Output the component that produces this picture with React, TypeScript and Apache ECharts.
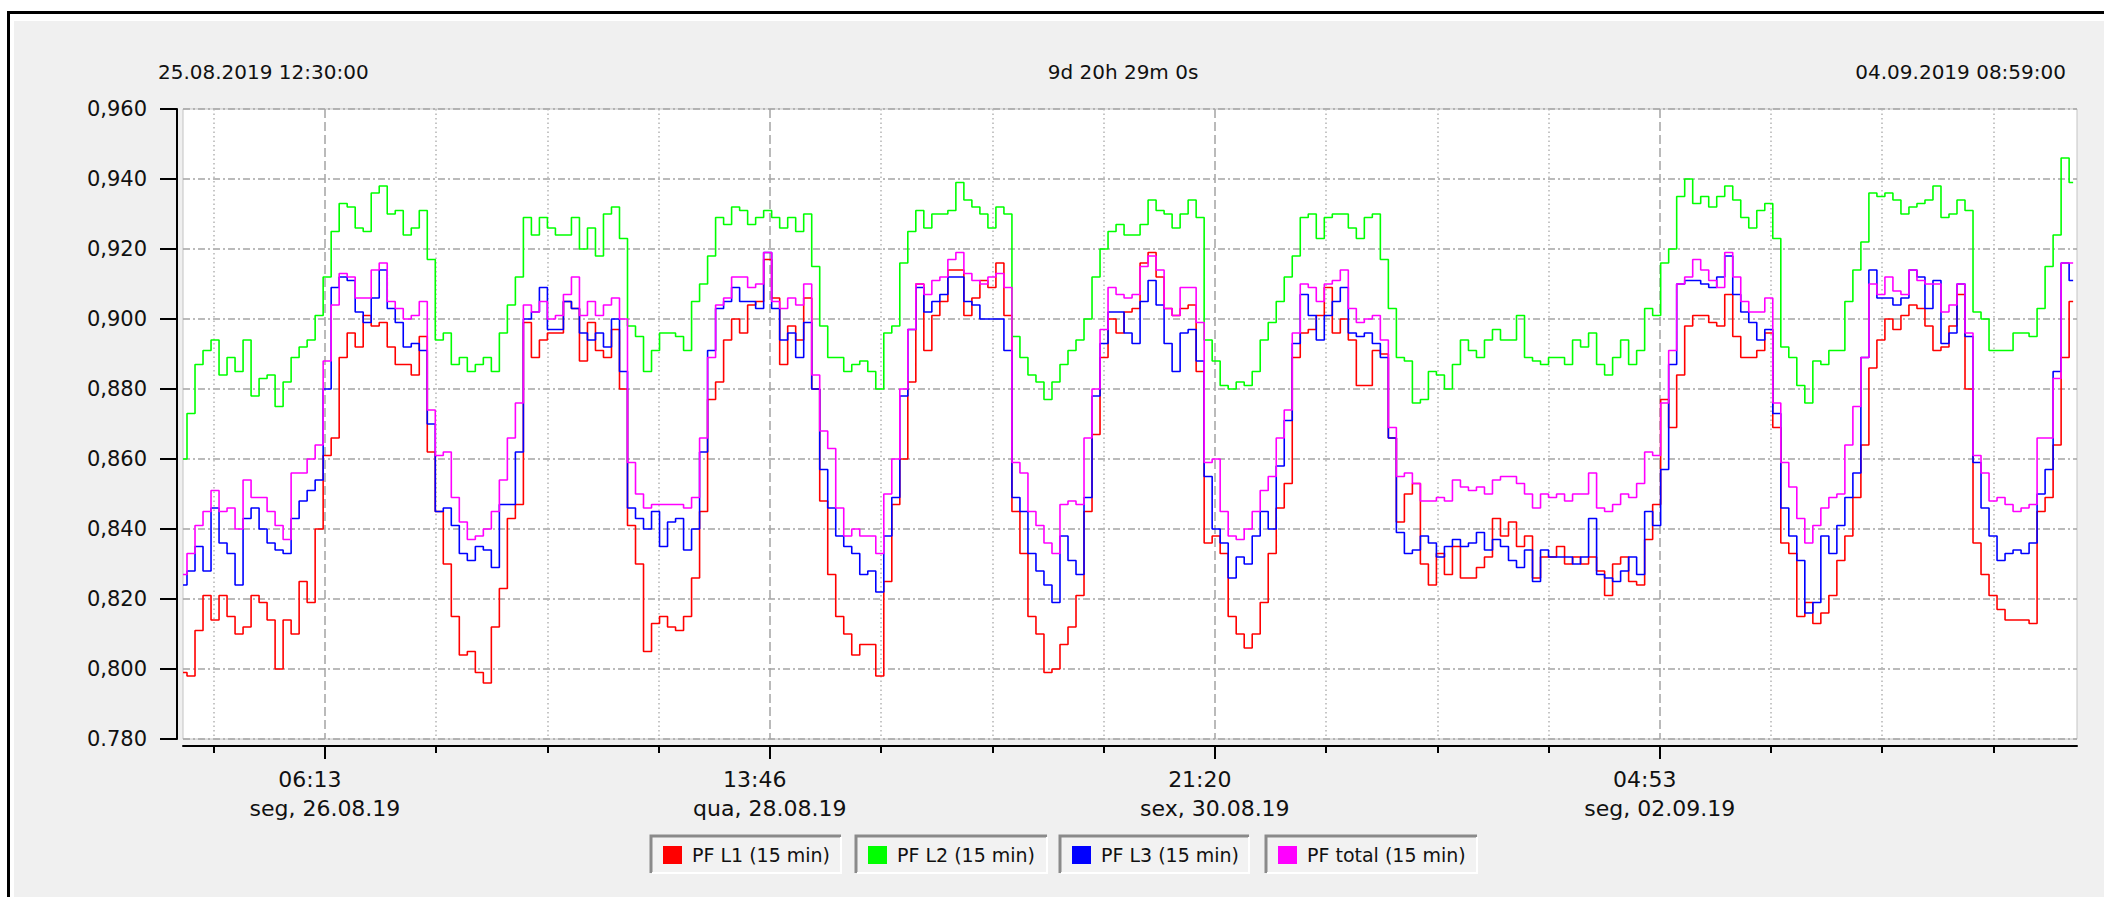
import React, { useEffect, useRef } from "react";
import * as echarts from "echarts";

const HOUR = 3600000;
const startTime = Date.UTC(2019, 7, 25, 12, 30);
const endTime = Date.UTC(2019, 8, 4, 8, 59);

const headerLabels = ["25.08.2019 12:30:00", "9d 20h 29m 0s", "04.09.2019 08:59:00"];
const seriesNames = ["PF L1 (15 min)", "PF L2 (15 min)", "PF L3 (15 min)", "PF total (15 min)"];
const seriesColors = ["#ff0000", "#00ff00", "#0000ff", "#ff00ff"];

const yMin = 780;
const yMax = 960;
const yStep = 20;
const yTickLabels = ["0.780", "0,800", "0,820", "0,840", "0,860", "0,880", "0,900", "0,920", "0,940", "0,960"];

const majorTickTimes = [
  Date.UTC(2019, 7, 26, 6, 13),
  Date.UTC(2019, 7, 28, 13, 46),
  Date.UTC(2019, 7, 30, 21, 20),
  Date.UTC(2019, 8, 2, 4, 53),
];
const majorTickTimeLabels = ["06:13", "13:46", "21:20", "04:53"];
const majorTickDateLabels = ["seg, 26.08.19", "qua, 28.08.19", "sex, 30.08.19", "seg, 02.09.19"];

// hourly readings (thousandths of PF), starting 25.08.2019 12:30
const pfL1 = [
  799, 798, 811, 821, 814, 821, 815, 810, 812, 821, 819, 814, 800, 814, 810, 825, 819, 840, 861, 866,
  889, 896, 892, 901, 898, 899, 892, 887, 887, 884, 895, 862, 845, 830, 815, 804, 805, 799, 796, 812,
  823, 843, 847, 899, 889, 894, 896, 896, 905, 903, 888, 899, 891, 889, 897, 880, 841, 830, 805, 813,
  815, 812, 811, 815, 826, 845, 877, 882, 894, 900, 896, 904, 905, 917, 906, 887, 898, 894, 906,
  880, 848, 827, 815, 810, 804, 807, 807, 798, 825, 847, 860, 882, 910, 891, 901, 905, 914, 914, 901,
  906, 911, 909, 916, 901, 845, 833, 815, 810, 799, 800, 807, 812, 821, 845, 867, 889, 900, 896, 902,
  903, 916, 919, 912, 903, 901, 903, 904, 885, 836, 838, 833, 815, 810, 806, 810, 819, 833, 846, 853,
  889, 896, 897, 901, 909, 896, 900, 894, 881, 881, 891, 890, 866, 842, 850, 853, 830, 824, 833,
  827, 835, 826, 826, 829, 832, 843, 838, 842, 835, 838, 826, 832, 832, 835, 830, 832, 830, 832, 828,
  821, 830, 832, 825, 824, 837, 847, 877, 869, 884, 898, 901, 901, 899, 898, 907, 895, 889, 889,
  891, 896, 869, 836, 833, 815, 819, 813, 816, 821, 831, 838, 849, 864, 886, 894, 900, 897, 901, 904,
  903, 898, 891, 892, 898, 907, 880, 836, 827, 821, 817, 814, 814, 814, 813, 845, 849, 864, 889, 905,
];
const pfL2 = [
  860, 873, 887, 891, 894, 884, 889, 885, 894, 878, 883, 884, 875, 882, 889, 892, 894, 901, 912, 925,
  933, 932, 926, 925, 936, 938, 930, 931, 924, 926, 931, 917, 894, 896, 887, 889, 885, 887, 889, 885,
  896, 904, 912, 929, 924, 929, 926, 924, 924, 929, 920, 926, 918, 930, 932, 923, 898, 895, 885, 891,
  896, 896, 895, 891, 905, 910, 918, 929, 927, 932, 931, 927, 929, 931, 929, 926, 929, 925, 930,
  915, 898, 889, 889, 885, 887, 888, 885, 880, 896, 898, 916, 925, 931, 926, 930, 930, 931, 939, 934,
  932, 930, 926, 932, 930, 895, 889, 884, 882, 877, 882, 887, 891, 894, 900, 912, 920, 925, 927, 924,
  924, 927, 934, 931, 930, 926, 930, 934, 929, 894, 888, 881, 880, 882, 881, 885, 894, 899, 905, 912,
  918, 929, 930, 923, 929, 930, 930, 926, 923, 929, 930, 917, 903, 889, 888, 876, 877, 885, 884,
  880, 887, 894, 891, 889, 894, 897, 894, 894, 901, 889, 888, 887, 889, 889, 887, 894, 892, 896, 887,
  884, 889, 894, 887, 891, 903, 901, 916, 920, 935, 940, 933, 935, 932, 935, 938, 934, 929, 926,
  931, 933, 923, 892, 889, 881, 876, 888, 887, 891, 891, 905, 914, 922, 936, 935, 936, 934, 930, 932,
  933, 934, 938, 929, 930, 934, 931, 902, 900, 891, 891, 891, 896, 896, 895, 903, 915, 924, 946, 939,
];
const pfL3 = [
  824, 828, 835, 828, 846, 836, 833, 824, 843, 846, 840, 836, 834, 833, 843, 848, 851, 854, 880, 909,
  912, 911, 902, 899, 906, 914, 903, 899, 892, 893, 891, 870, 845, 846, 841, 833, 831, 835, 834, 829,
  847, 847, 862, 900, 902, 909, 897, 897, 905, 903, 896, 894, 896, 892, 900, 885, 846, 843, 840, 845,
  835, 842, 843, 834, 840, 862, 891, 903, 905, 909, 905, 905, 903, 919, 903, 894, 896, 889, 899,
  880, 857, 846, 838, 835, 833, 827, 828, 822, 838, 849, 878, 897, 909, 902, 905, 907, 912, 912, 905,
  904, 900, 900, 900, 891, 849, 845, 833, 828, 824, 819, 838, 831, 827, 849, 878, 893, 902, 902, 896,
  893, 905, 911, 904, 893, 885, 896, 897, 888, 855, 840, 836, 826, 832, 830, 838, 845, 840, 858, 871,
  893, 907, 901, 894, 901, 905, 909, 896, 895, 896, 893, 889, 866, 839, 833, 834, 838, 836, 832,
  835, 837, 835, 836, 839, 834, 837, 835, 831, 829, 834, 825, 834, 832, 832, 832, 830, 832, 843, 827,
  826, 825, 828, 832, 827, 845, 841, 857, 887, 910, 911, 911, 910, 909, 912, 918, 907, 902, 899,
  894, 897, 873, 846, 838, 831, 816, 819, 838, 833, 841, 849, 856, 889, 914, 906, 906, 904, 906, 914,
  912, 903, 911, 893, 896, 910, 895, 859, 846, 838, 831, 833, 834, 833, 836, 850, 857, 885, 916, 911,
];
const pfTotal = [
  827, 833, 841, 845, 851, 845, 846, 840, 854, 849, 849, 845, 841, 837, 856, 856, 860, 864, 888, 904,
  913, 912, 906, 906, 914, 916, 905, 903, 900, 901, 905, 874, 861, 862, 849, 842, 837, 838, 840, 845,
  854, 866, 876, 904, 902, 905, 900, 901, 907, 912, 901, 905, 901, 904, 906, 900, 859, 850, 846, 847,
  847, 847, 847, 846, 849, 866, 889, 904, 906, 912, 912, 909, 910, 919, 905, 903, 906, 904, 910,
  884, 868, 863, 846, 838, 840, 838, 838, 833, 850, 860, 880, 897, 910, 907, 911, 912, 917, 919, 913,
  911, 910, 912, 913, 909, 859, 856, 845, 841, 836, 833, 847, 848, 847, 866, 880, 897, 909, 907, 906,
  907, 915, 918, 914, 903, 901, 909, 909, 899, 859, 860, 845, 838, 837, 840, 845, 851, 855, 866, 874,
  896, 910, 909, 905, 910, 911, 914, 903, 899, 900, 901, 894, 869, 855, 856, 853, 848, 848, 849,
  848, 854, 852, 851, 852, 850, 854, 855, 855, 853, 850, 846, 850, 849, 850, 848, 850, 850, 856, 846,
  845, 847, 850, 849, 853, 862, 861, 876, 891, 910, 912, 917, 914, 911, 909, 919, 912, 905, 902,
  902, 906, 876, 859, 852, 843, 836, 841, 846, 849, 850, 864, 875, 889, 910, 907, 912, 908, 907, 914,
  911, 910, 910, 902, 904, 910, 896, 861, 856, 848, 849, 847, 845, 846, 847, 866, 866, 883, 916, 916,
];

const seriesValues = [pfL1, pfL2, pfL3, pfTotal];

// legend boxes (pixel layout)
const legendBoxes = [
  { x: 650, w: 191 },
  { x: 855, w: 192 },
  { x: 1059, w: 190 },
  { x: 1265, w: 212 },
];

const FONT = "'DejaVu Sans', Verdana, sans-serif";

function buildOption() {
  const step = (majorTickTimes[3] - majorTickTimes[0]) / 12;
  const minorTicks: number[] = [];
  for (let k = -1; k <= 16; k++) {
    if (k % 4 === 0) continue;
    const t = majorTickTimes[0] + k * step;
    if (t > startTime && t < endTime) minorTicks.push(t);
  }

  const series = seriesValues.map((vals, si) => ({
    name: seriesNames[si],
    type: "line",
    step: "middle",
    xAxisIndex: 0,
    yAxisIndex: 0,
    showSymbol: false,
    symbol: "none",
    lineStyle: { color: seriesColors[si], width: 1.6 },
    itemStyle: { color: seriesColors[si] },
    data: vals.map((v, i) => [startTime + i * HOUR, v]),
  }));

  const graphic: any[] = [
    { type: "rect", shape: { x: 0, y: 0, width: 14, height: 897 }, style: { fill: "#ffffff" }, silent: true },
    { type: "rect", shape: { x: 0, y: 0, width: 2104, height: 21 }, style: { fill: "#ffffff" }, silent: true },
    { type: "rect", shape: { x: 7, y: 11, width: 3, height: 886 }, style: { fill: "#000000" }, silent: true },
    { type: "rect", shape: { x: 7, y: 11, width: 2097, height: 3 }, style: { fill: "#000000" }, silent: true },
  ];
  const headerX = [158, 1123, 2066];
  const headerAlign = ["left", "center", "right"];
  headerLabels.forEach((t, i) => {
    graphic.push({
      type: "text",
      x: headerX[i],
      y: 72,
      style: {
        text: t,
        fill: "#111111",
        font: `20px ${FONT}`,
        align: headerAlign[i],
        verticalAlign: "middle",
        textAlign: headerAlign[i],
        textVerticalAlign: "middle",
      },
      silent: true,
    });
  });
  legendBoxes.forEach((b, i) => {
    const y = 835;
    const h = 38;
    graphic.push({ type: "rect", shape: { x: b.x, y, width: b.w, height: h }, style: { fill: "#f2f2f2" }, silent: true });
    graphic.push({
      type: "polyline",
      shape: { points: [[b.x + 1, y + h], [b.x + 1, y + 1], [b.x + b.w, y + 1]] },
      style: { stroke: "#8a8a8a", lineWidth: 3, fill: "none" },
      silent: true,
    });
    graphic.push({
      type: "polyline",
      shape: { points: [[b.x + b.w, y + 2], [b.x + b.w, y + h], [b.x + 2, y + h]] },
      style: { stroke: "#ffffff", lineWidth: 2, fill: "none" },
      silent: true,
    });
    graphic.push({
      type: "rect",
      shape: { x: b.x + 13, y: y + 11, width: 19, height: 18 },
      style: { fill: seriesColors[i] },
      silent: true,
    });
    graphic.push({
      type: "text",
      x: b.x + 42,
      y: y + 20,
      style: {
        text: seriesNames[i],
        fill: "#111111",
        font: `19px ${FONT}`,
        align: "left",
        verticalAlign: "middle",
        textAlign: "left",
        textVerticalAlign: "middle",
      },
      silent: true,
    });
  });

  const nearestMajor = (v: number) => {
    let best = 0;
    for (let i = 1; i < majorTickTimes.length; i++) {
      if (Math.abs(majorTickTimes[i] - v) < Math.abs(majorTickTimes[best] - v)) best = i;
    }
    return best;
  };

  return {
    animation: false,
    backgroundColor: "#f0f0f0",
    grid: {
      left: 183,
      right: 27,
      top: 109,
      bottom: 158,
      show: true,
      backgroundColor: "#ffffff",
      borderColor: "#c4c4c4",
      borderWidth: 1,
      containLabel: false,
    },
    xAxis: [
      {
        type: "value",
        position: "bottom",
        min: startTime,
        max: endTime,
        offset: 7,
        axisLine: { show: true, onZero: false, lineStyle: { color: "#000000", width: 2 } },
        axisTick: { show: true, length: 7, customValues: minorTicks, lineStyle: { color: "#000000", width: 2 } },
        axisLabel: { show: false },
        splitLine: { show: true, lineStyle: { color: "#b4b4b4", width: 1.5, type: [1.5, 3] } },
      },
      {
        type: "value",
        position: "bottom",
        min: startTime,
        max: endTime,
        offset: 7,
        axisLine: { show: false, onZero: false },
        axisTick: { show: true, length: 13, customValues: majorTickTimes, lineStyle: { color: "#000000", width: 2 } },
        axisLabel: {
          show: true,
          customValues: majorTickTimes,
          margin: 19,
          formatter: (v: number) => {
            const i = nearestMajor(v);
            return `{t|${majorTickTimeLabels[i]}}\n{d|${majorTickDateLabels[i]}}`;
          },
          rich: {
            t: { fontSize: 22, fontFamily: FONT, color: "#111111", lineHeight: 29, padding: [0, 30, 0, 0] },
            d: { fontSize: 22, fontFamily: FONT, color: "#111111", lineHeight: 29 },
          },
        },
        splitLine: { show: true, lineStyle: { color: "#a4a4a4", width: 1.5, type: [9, 4] } },
      },
    ],
    yAxis: {
      type: "value",
      min: yMin,
      max: yMax,
      interval: yStep,
      offset: 6,
      axisLine: { show: true, lineStyle: { color: "#000000", width: 2 } },
      axisTick: { show: true, length: 17, lineStyle: { color: "#000000", width: 2 } },
      axisLabel: {
        margin: 30,
        fontSize: 21,
        fontFamily: FONT,
        color: "#111111",
        formatter: (v: number) => yTickLabels[Math.round((v - yMin) / yStep)] ?? "",
      },
      splitLine: { show: true, lineStyle: { color: "#a4a4a4", width: 1.5, type: [7, 3, 2, 3] } },
    },
    graphic,
    series,
  };
}

export default function App() {
  const ref = useRef<HTMLDivElement>(null);
  useEffect(() => {
    if (!ref.current) return;
    const chart = echarts.init(ref.current, null, { renderer: "svg" });
    chart.setOption(buildOption() as any);
    return () => chart.dispose();
  }, []);
  return (
    <div
      ref={ref}
      style={{ position: "fixed", left: 0, top: 0, width: 2104, height: 897 }}
    />
  );
}
